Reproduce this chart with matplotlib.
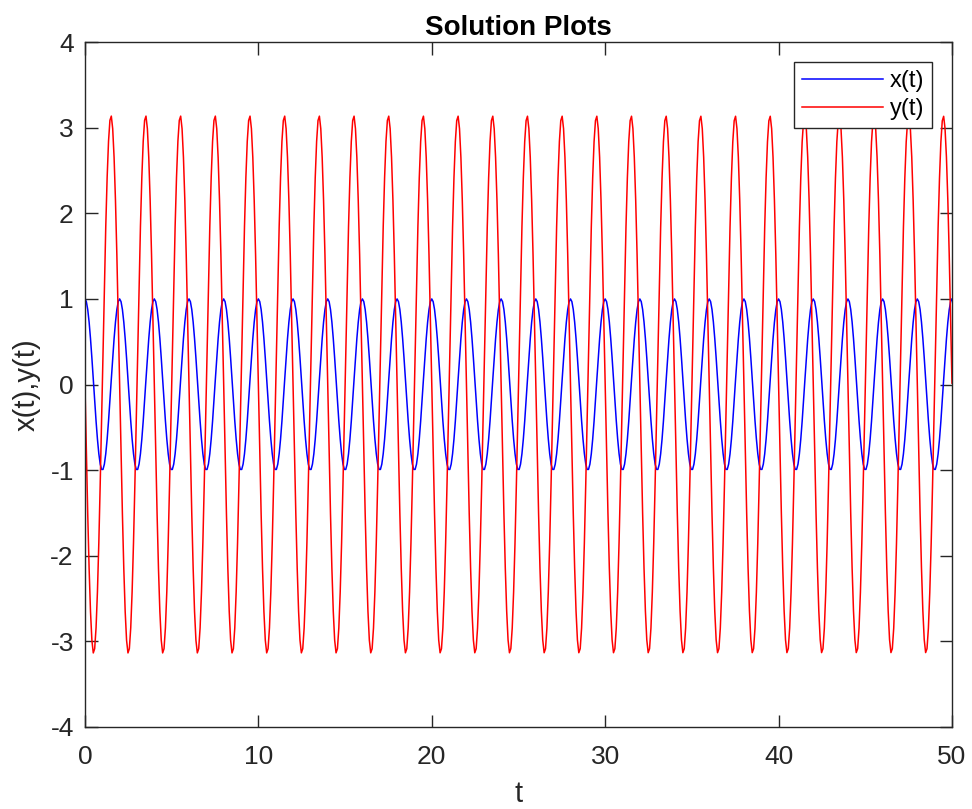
import numpy as np
import matplotlib.pyplot as plt

plt.rcParams['font.family'] = ['Liberation Sans', 'DejaVu Sans']
plt.rcParams['axes.unicode_minus'] = False

# model behind the solution curves: x' = y, y' = -w^2 x
omega = np.pi
x0 = 1.0
y0 = 0.0
t_end = 50.0
dt = 0.08

# RK4 integration of the system
n = int(round(t_end / dt))
t = np.linspace(0, t_end, n + 1)
xs = np.zeros(n + 1)
ys = np.zeros(n + 1)
xs[0], ys[0] = x0, y0

def f(x, y):
    return y, -omega**2 * x

for i in range(n):
    x, y = xs[i], ys[i]
    k1 = f(x, y)
    k2 = f(x + dt/2*k1[0], y + dt/2*k1[1])
    k3 = f(x + dt/2*k2[0], y + dt/2*k2[1])
    k4 = f(x + dt*k3[0], y + dt*k3[1])
    xs[i+1] = x + dt/6*(k1[0] + 2*k2[0] + 2*k3[0] + k4[0])
    ys[i+1] = y + dt/6*(k1[1] + 2*k2[1] + 2*k3[1] + k4[1])

xticks = [0, 10, 20, 30, 40, 50]
yticks = [-4, -3, -2, -1, 0, 1, 2, 3, 4]

fig = plt.figure(figsize=(9.72, 8.09), dpi=100)
ax = fig.add_axes([0.0874, 0.1014, 0.892, 0.8466])

ax.plot(t, xs, color='blue', lw=1.1, label='x(t)')
ax.plot(t, ys, color='red', lw=1.1, label='y(t)')

ax.set_xlim(0, 50)
ax.set_ylim(-4, 4)
ax.set_xticks(xticks)
ax.set_yticks(yticks)
ax.tick_params(direction='in', length=9, width=1, top=True, right=True,
               labelsize=19, colors='#262626')
ax.tick_params(axis='x', pad=13)
ax.tick_params(axis='y', pad=8)
for s in ax.spines.values():
    s.set_color('#262626')
    s.set_linewidth(1)

ax.set_xlabel('t', fontsize=21, color='#262626', labelpad=8)
ax.set_ylabel('x(t),y(t)', fontsize=21, color='#262626', labelpad=7)
ax.set_title('Solution Plots', fontsize=20, fontweight='bold', pad=5)

leg = ax.legend(loc='upper right', fontsize=17, fancybox=False, framealpha=1,
                edgecolor='#262626', handlelength=3.4, borderaxespad=0.85,
                handletextpad=0.3, labelspacing=0.27, borderpad=0.33)
leg.get_frame().set_linewidth(1)

fig.savefig('out.png', dpi=100)
